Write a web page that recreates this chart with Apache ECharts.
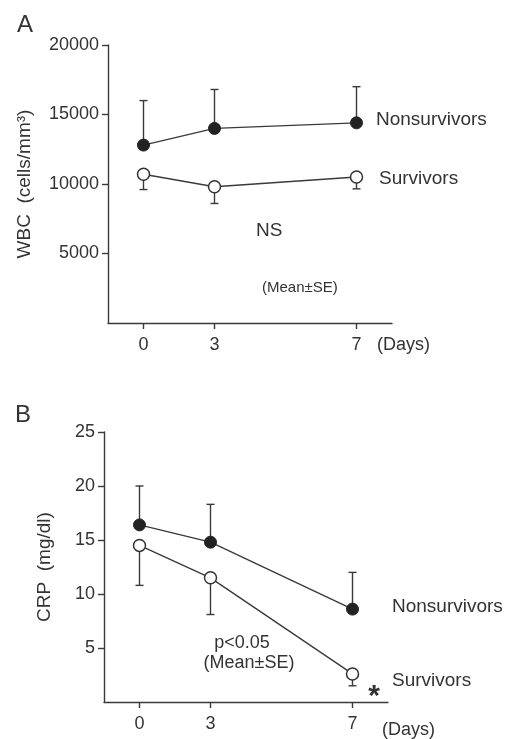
<!DOCTYPE html>
<html>
<head>
<meta charset="utf-8">
<script src="https://cdn.jsdelivr.net/npm/echarts@6/dist/echarts.min.js"></script>
<style>
  html, body { margin: 0; padding: 0; background: #fff; }
  #main { width: 505px; height: 739px; }
</style>
</head>
<body>
<div id="main"></div>
<script>
// x categories (blank slot keeps day 7 twice as far from day 3)
const days = ['0', '3', '', '7'];

// panel A: WBC (cells/mm3), mean and SE
const wbcNonMean = [12800, 14000, null, 14400];
const wbcNonSE = [3200, 2800, null, 2600];
const wbcSurMean = [10700, 9800, null, 10500];
const wbcSurSE = [1100, 1200, null, 850];
const wbcTicks = [0, 5000, 10000, 15000, 20000];

// panel B: CRP (mg/dl), mean and SE
const crpNonMean = [16.4, 14.8, null, 8.6];
const crpNonSE = [3.6, 3.5, null, 3.4];
const crpSurMean = [14.5, 11.5, null, 2.6];
const crpSurSE = [3.7, 3.4, null, 1.1];
const crpTicks = [0, 5, 10, 15, 20, 25];

const FONT = "'Liberation Sans', Arial, sans-serif";
const TXT = '#333';
const LINE = '#3a3a3a';

function toLine(arr) {
    return arr.map(v => v == null ? '-' : v);
}

function errRows(mean, se) {
    let rows = [];
    mean.forEach((m, i) => {
        if (m != null) rows.push([i, m, se[i]]);
    });
    return rows;
}

// dir = 1 for upper bar, -1 for lower bar
function errorSeries(idx, mean, se, dir) {
    return {
        type: 'custom',
        xAxisIndex: idx,
        yAxisIndex: idx,
        z: 1,
        silent: true,
        data: errRows(mean, se),
        renderItem: function (params, api) {
            let x = api.value(0);
            let m = api.value(1);
            let e = api.value(2);
            let p0 = api.coord([x, m]);
            let p1 = api.coord([x, m + dir * e]);
            let style = { stroke: LINE, lineWidth: 1.4 };
            return {
                type: 'group',
                children: [
                    { type: 'line', shape: { x1: p0[0], y1: p0[1], x2: p1[0], y2: p1[1] }, style: style },
                    { type: 'line', shape: { x1: p1[0] - 4, y1: p1[1], x2: p1[0] + 4, y2: p1[1] }, style: style }
                ]
            };
        }
    };
}

function lineSeries(idx, name, data, filled) {
    return {
        name: name,
        type: 'line',
        xAxisIndex: idx,
        yAxisIndex: idx,
        z: 3,
        data: toLine(data),
        connectNulls: true,
        symbol: 'circle',
        symbolSize: 12,
        itemStyle: filled
            ? { color: '#222', borderColor: '#222', borderWidth: 1 }
            : { color: '#fff', borderColor: '#333', borderWidth: 1.5 },
        lineStyle: { color: LINE, width: 1.4 }
    };
}

function xAxisCfg(idx) {
    return {
        type: 'category',
        gridIndex: idx,
        data: days,
        boundaryGap: true,
        axisLine: { lineStyle: { color: LINE, width: 1.4 } },
        axisTick: {
            show: true,
            alignWithLabel: true,
            length: 6,
            interval: (i, v) => v !== '',
            lineStyle: { color: LINE, width: 1.4 }
        },
        axisLabel: { color: TXT, fontSize: 18, fontFamily: FONT, margin: 13 },
        splitLine: { show: false }
    };
}

function yAxisCfg(idx, ticks, name, gap) {
    return {
        type: 'value',
        gridIndex: idx,
        min: ticks[0],
        max: ticks[ticks.length - 1],
        interval: ticks[1] - ticks[0],
        name: name,
        nameLocation: 'middle',
        nameRotate: 90,
        nameGap: gap,
        nameTextStyle: { color: TXT, fontSize: 19, fontFamily: FONT },
        axisLine: { show: true, lineStyle: { color: LINE, width: 1.4 } },
        axisTick: { show: true, length: 6, lineStyle: { color: LINE, width: 1.4 } },
        axisLabel: {
            color: TXT, fontSize: 18, fontFamily: FONT, margin: 9,
            showMinLabel: false,
            formatter: v => String(v)
        },
        splitLine: { show: false }
    };
}

function txt(text, x, y, size, align, weight) {
    return {
        type: 'text',
        x: x,
        y: y,
        silent: true,
        style: {
            text: text,
            fill: TXT,
            font: (weight || 'normal') + ' ' + size + 'px ' + FONT,
            align: align || 'left',
            verticalAlign: 'middle'
        }
    };
}

let chart = echarts.init(document.getElementById('main'));

let option = {
    animation: false,
    backgroundColor: '#fff',
    grid: [
        { left: 108, top: 45, width: 284, height: 278 },
        { left: 104, top: 432, width: 284, height: 270 }
    ],
    xAxis: [xAxisCfg(0), xAxisCfg(1)],
    yAxis: [
        yAxisCfg(0, wbcTicks, 'WBC  (cells/mm\u00b3)', 74),
        yAxisCfg(1, crpTicks, 'CRP  (mg/dl)', 50)
    ],
    series: [
        errorSeries(0, wbcNonMean, wbcNonSE, 1),
        errorSeries(0, wbcSurMean, wbcSurSE, -1),
        lineSeries(0, 'Nonsurvivors', wbcNonMean, true),
        lineSeries(0, 'Survivors', wbcSurMean, false),
        errorSeries(1, crpNonMean, crpNonSE, 1),
        errorSeries(1, crpSurMean, crpSurSE, -1),
        lineSeries(1, 'Nonsurvivors', crpNonMean, true),
        lineSeries(1, 'Survivors', crpSurMean, false)
    ],
    graphic: [
        txt('A', 17, 25, 24),
        txt('Nonsurvivors', 376, 120, 19),
        txt('Survivors', 379, 179, 19),
        txt('NS', 256, 231, 19),
        txt('(Mean\u00b1SE)', 262, 288, 15),
        txt('(Days)', 377, 345, 18),
        txt('B', 15, 415, 24),
        txt('Nonsurvivors', 392, 607, 19),
        txt('Survivors', 392, 681, 19),
        txt('*', 374, 697, 30, 'center', 'bold'),
        txt('p<0.05', 242, 643, 18, 'center'),
        txt('(Mean\u00b1SE)', 249, 663, 18, 'center'),
        txt('(Days)', 382, 730, 18)
    ]
};

chart.setOption(option);
</script>
</body>
</html>
